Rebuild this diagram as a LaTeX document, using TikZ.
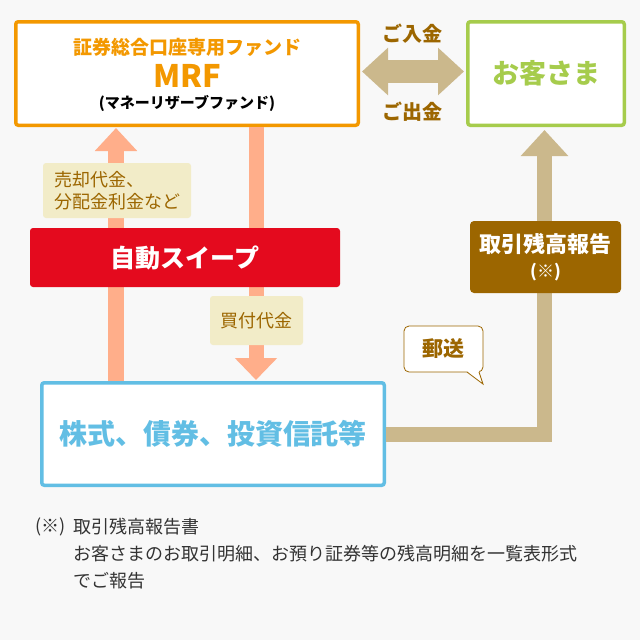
\documentclass[tikz,border=0pt]{standalone}
\usepackage{fontspec}
\setmainfont{Noto Sans CJK JP}
\usetikzlibrary{arrows.meta, positioning, calc}
\definecolor{pagebg}{RGB}{248, 248, 248}
\definecolor{mrforange}{RGB}{243, 152, 0}
\definecolor{custgreen}{RGB}{166, 204, 76}
\definecolor{secblue}{RGB}{98, 190, 228}
\definecolor{sweepred}{RGB}{228, 10, 30}
\definecolor{flowtan}{RGB}{203, 184, 140}
\definecolor{flowsalmon}{RGB}{255, 174, 138}
\definecolor{notebrown}{RGB}{156, 102, 0}
\definecolor{labelcream}{RGB}{242, 236, 200}
\definecolor{notegray}{RGB}{51, 51, 51}

\tikzset{
  mainbox/.style={draw, line width=3.5pt, fill=white, rounded corners=2.5pt, inner sep=0pt},
  flowlabel/.style={fill=labelcream, rounded corners=3pt, text=notebrown, inner sep=0pt, align=left,
    font=\fontsize{18}{22}\selectfont},
  salmonflow/.style={line width=15.5pt, flowsalmon, -{Triangle[length=23pt, width=41pt]}},
  tanflow/.style={line width=15pt, flowtan, -{Triangle[length=26pt, width=46pt]}},
  moneytxt/.style={text=notebrown, font=\fontsize{20}{24}\selectfont\bfseries},
  notetext/.style={anchor=west, inner sep=0pt, text=notegray, font=\fontsize{18}{22}\selectfont},
}

\begin{document}
\begin{tikzpicture}[x=1pt, y=-1pt]
    % Page
    \fill[pagebg] (0,0) rectangle (640,640);
    \useasboundingbox (0,0) rectangle (640,640);

    % Main boxes
    \node[mainbox, draw=mrforange, minimum width=342.5pt, minimum height=103.5pt] (mrf) at (187,73.5) {};
    \node[text=mrforange, font=\fontsize{19}{22}\selectfont\bfseries] (mrfname) at ($(mrf.north)+(0,27)$) {証券総合口座専用ファンド};
    \node[text=mrforange, font=\fontsize{31}{34}\selectfont\bfseries] (mrfshort) at ($(mrf.north)+(0,56)$) {MRF};
    \node[text=black, font=\fontsize{15}{18}\selectfont\bfseries] (mrflong) at ($(mrf.north)+(0,83)$) {(マネーリザーブファンド)};

    \node[mainbox, draw=custgreen, minimum width=156.5pt, minimum height=103.5pt, text=custgreen,
      font=\fontsize{27}{30}\selectfont\bfseries] (cust) at (546,73.5) {お客さま};

    \node[mainbox, draw=secblue, minimum width=342.5pt, minimum height=102.5pt, text=secblue,
      font=\fontsize{28}{32}\selectfont\bfseries] (secu) at (213,434) {株式、債券、投資信託等};

    % Money in / out
    \draw[line width=23pt, flowtan, {Triangle[length=26pt, width=46pt]}-{Triangle[length=26pt, width=46pt]},
      shorten <=2pt, shorten >=2pt] ([yshift=2pt]mrf.east) -- ([yshift=2pt]cust.west);
    \node[moneytxt] (moneyin) at (412,34) {ご入金};
    \node[moneytxt] (moneyout) at (412,112) {ご出金};

    % Sweep flows
    \draw[salmonflow, shorten >=1pt] ([xshift=-97pt]secu.north) -- ([xshift=-71pt]mrf.south);
    \draw[salmonflow, -{Triangle[length=22pt, width=41pt]}, line width=15pt, shorten >=1pt]
      ([xshift=69pt]mrf.south) -- ([xshift=43pt]secu.north);

    % Report flow
    \draw[tanflow] (secu.east) -| ([xshift=-1.5pt, yshift=-3pt]cust.south);

    % Labels on the flows
    \node[flowlabel, minimum width=148pt, minimum height=55pt] (sellamt) at (117,190.5) {売却代金、\\分配金利金など};
    \node[fill=sweepred, rounded corners=3pt, minimum width=310pt, minimum height=59pt, inner sep=0pt,
      text=white, font=\fontsize{25}{28}\selectfont\bfseries] (sweep) at (185,257.5) {自動スイープ};
    \node[flowlabel, minimum width=93pt, minimum height=49pt] (buyamt) at (256.5,320.5) {買付代金};
    \node[fill=notebrown, rounded corners=4pt, minimum width=151pt, minimum height=72pt, inner sep=0pt,
      text=white, align=center, font=\fontsize{22}{25}\selectfont\bfseries] (report) at (545.5,257)
      {取引残高報告\\{\fontsize{17}{20}\selectfont (※)}};

    % Mail bubble
    \node[draw=notebrown, fill=white, line width=0.8pt, rounded corners=5pt, minimum width=79pt,
      minimum height=46pt, inner sep=0pt, text=notebrown, font=\fontsize{21}{24}\selectfont\bfseries]
      (post) at (443.5,349) {郵送};
    \coordinate (posttip) at (483,384);
    \fill[white] ($(post.south)+(23.5,-1.2)$) -- (posttip) -- ($(post.south)+(35.5,-1.2)$) -- cycle;
    \draw[notebrown, line width=0.8pt] ($(post.south)+(23.5,-0.4)$) -- (posttip) -- ($(post.south)+(35.5,-0.4)$);

    % Footnote
    \node[notetext] (notemark) at (35,527) {(※)};
    \node[notetext] (notehead) at (73,527) {取引残高報告書};
    \node[notetext] (noteline1) at (73,554) {お客さまのお取引明細、お預り証券等の残高明細を一覧表形式};
    \node[notetext] (noteline2) at (73,581) {でご報告};
\end{tikzpicture}
\end{document}
